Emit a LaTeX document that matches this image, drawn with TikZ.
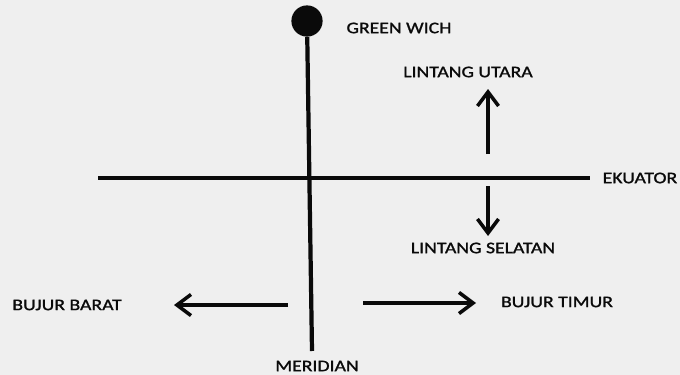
\documentclass[tikz,border=0pt]{standalone}
\usepackage{fontspec}
\setmainfont[FakeStretch=1.22, FakeBold=1.3]{Carlito}
\usetikzlibrary{arrows.meta, positioning}
\definecolor{paper}{RGB}{239,239,239}
\definecolor{ink}{RGB}{10,10,10}

\begin{document}
\begin{tikzpicture}[
  x=0.025cm, y=-0.025cm,
  every node/.style={font=\fontsize{11.5}{13}\selectfont, text=ink},
  label/.style={inner sep=1pt},
  pole/.style={circle, fill=ink, minimum size=0.78cm, inner sep=0pt},
  axis/.style={draw=ink, line width=2.3pt},
  mainline/.style={draw=ink, line width=3pt},
  arr/.style={draw=ink, line width=2.5pt, -{Straight Barb[length=10pt, width=15pt]}},
]

%% Paper
\fill[paper] (0,0) rectangle (680,375);

%% Greenwich pole and meridian
\node[pole] (gw) at (307,21) {};
\node[label] (gwtext) at (399,28) {GREEN WICH};
\coordinate (merB) at (312,351);
\node[label] (meridian) at (317,366) {MERIDIAN};
\draw[mainline] (gw) -- (merB);

%% Equator
\coordinate (eqW) at (98,178);
\node[label, anchor=west] (ekuator) at (601,178) {EKUATOR};
\draw[axis] (eqW) -- ([xshift=-8pt]ekuator.west);

%% Lintang
\coordinate (utB) at (488,154);
\coordinate (utT) at (488,89);
\node[label] (utara) at (468,72) {LINTANG UTARA};
\draw[arr] (utB) -- (utT);

\coordinate (selT) at (488,186);
\coordinate (selB) at (488,236);
\node[label] (selatan) at (483,248) {LINTANG SELATAN};
\draw[arr] (selT) -- (selB);

%% Bujur
\coordinate (barE) at (288,305);
\coordinate (barW) at (174,305);
\node[label] (barat) at (67,305) {BUJUR BARAT};
\draw[arr] (barE) -- (barW);

\coordinate (timW) at (363,303);
\coordinate (timE) at (476,303);
\node[label] (timur) at (557,302) {BUJUR TIMUR};
\draw[arr] (timW) -- (timE);

\end{tikzpicture}
\end{document}
